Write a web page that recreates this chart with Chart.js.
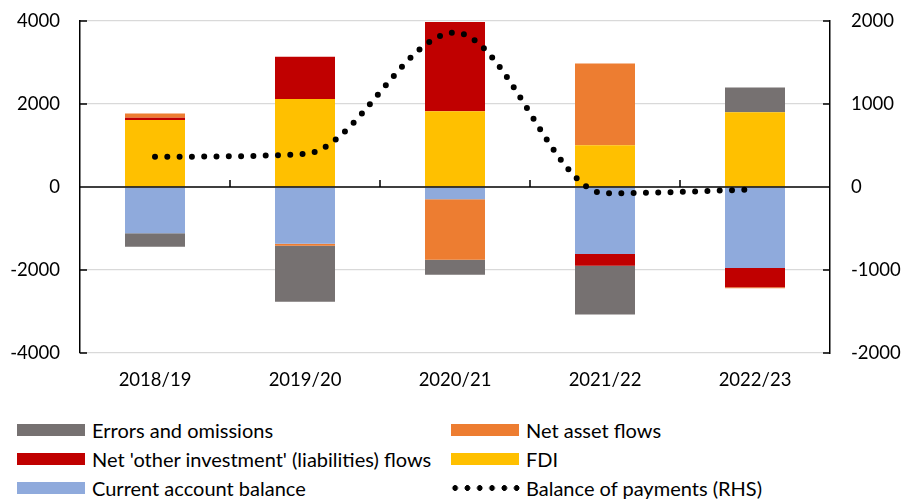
<!DOCTYPE html>
<html>
<head>
<meta charset="utf-8">
<script src="https://cdn.jsdelivr.net/npm/chart.js@4"></script>
<style>
  body { margin: 0; background: #fff; font-family: Lato, sans-serif; overflow: hidden; }
  #wrap { position: relative; width: 901px; height: 499px; overflow: hidden; }
  #chartBox { position: absolute; left: 0; top: -11px; width: 901px; height: 416px; }
  .item { position: absolute; height: 24px; line-height: 24px; font-size: 20px; color: #000; white-space: nowrap; }
  .swatch { position: absolute; left: 0; top: 6px; width: 68px; height: 12px; }
  .dots { position: absolute; left: 0; top: 0; width: 74px; height: 24px;
    background: radial-gradient(circle, #000 2.6px, transparent 3.1px) 0 0 / 12.3px 24px repeat-x; }
  .item span.label { position: absolute; left: 75px; top: 0; }
</style>
</head>
<body>
<div id="wrap">
  <div id="chartBox"><canvas id="bopChart"></canvas></div>
  <div id="legend"></div>
</div>
<script>
// Financial years on the x axis
const years = ["2018/19", "2019/20", "2020/21", "2021/22", "2022/23"];

// Components, stacked in this order (left axis)
const currentAccount = [-1115, -1365, -295, -1615, -1950];
const fdi = [1615, 2120, 1830, 1005, 1800];
const otherInvestment = [55, 1020, 2150, -280, -465];
const netAssetFlows = [105, -50, -1460, 1970, -25];
const errorsOmissions = [-325, -1350, -360, -1180, 600];

// Overall balance (right axis)
const balanceOfPayments = [365, 400, 1860, -75, -30];

const leftTicks = [-4000, -2000, 0, 2000, 4000];
const rightTicks = [-2000, -1000, 0, 1000, 2000];

const colours = {
  errors: "#767171",
  assets: "#ED7D31",
  other: "#C00000",
  fdi: "#FFC000",
  current: "#8FAADC",
};

const tickFont = { family: "Lato", size: 18.5 };

// zero line and the little inside tick marks, drawn over the bars but under the dotted line
const axisMarks = {
  id: "axisMarks",
  beforeDatasetDraw(chart, args) {
    if (args.meta.type !== "line") return;
    const ctx = chart.ctx;
    const area = chart.chartArea;
    const y = chart.scales.y;
    const y2 = chart.scales.y2;
    const x = chart.scales.x;
    const zero = y.getPixelForValue(0);
    ctx.save();
    ctx.strokeStyle = "#000";
    ctx.lineWidth = 1.5;
    ctx.beginPath();
    ctx.moveTo(area.left, zero);
    ctx.lineTo(area.right, zero);
    // category boundaries
    for (let i = 0; i < years.length - 1; i++) {
      const bx = (x.getPixelForValue(i) + x.getPixelForValue(i + 1)) / 2;
      ctx.moveTo(bx, zero);
      ctx.lineTo(bx, zero - 7);
    }
    leftTicks.forEach((v) => {
      const py = y.getPixelForValue(v);
      ctx.moveTo(area.left, py);
      ctx.lineTo(area.left + 7, py);
    });
    rightTicks.forEach((v) => {
      const py = y2.getPixelForValue(v);
      ctx.moveTo(area.right, py);
      ctx.lineTo(area.right - 7, py);
    });
    ctx.stroke();
    ctx.restore();
  },
};

function barSet(label, data, colour) {
  return {
    type: "bar",
    label: label,
    data: data,
    backgroundColor: colour,
    borderWidth: 0,
    yAxisID: "y",
    stack: "bop",
    order: 1,
    barPercentage: 0.4,
    categoryPercentage: 1,
  };
}

const plainNumber = (v) => String(v);

const ctx = document.getElementById("bopChart").getContext("2d");
const bopChart = new Chart(ctx, {
  data: {
    labels: years,
    datasets: [
      barSet("Current account balance", currentAccount, colours.current),
      barSet("FDI", fdi, colours.fdi),
      barSet("Net 'other investment' (liabilities) flows", otherInvestment, colours.other),
      barSet("Net asset flows", netAssetFlows, colours.assets),
      barSet("Errors and omissions", errorsOmissions, colours.errors),
      {
        type: "line",
        label: "Balance of payments (RHS)",
        data: balanceOfPayments,
        yAxisID: "y2",
        borderColor: "#000",
        borderWidth: 6,
        borderDash: [0, 12.3],
        borderCapStyle: "round",
        cubicInterpolationMode: "monotone",
        pointRadius: 0,
        fill: false,
        order: 0,
      },
    ],
  },
  options: {
    responsive: true,
    maintainAspectRatio: false,
    animation: false,
    layout: { padding: { top: 10, left: 0, right: 0, bottom: 0 } },
    plugins: {
      legend: { display: false },
      tooltip: { enabled: false },
    },
    scales: {
      x: {
        stacked: true,
        grid: { display: false, drawTicks: false },
        border: { display: false },
        ticks: { font: tickFont, color: "#000", padding: 16 },
        afterFit(scale) { scale.height = 52; },
      },
      y: {
        position: "left",
        stacked: true,
        min: -4000,
        max: 4000,
        afterBuildTicks(scale) { scale.ticks = leftTicks.map((v) => ({ value: v })); },
        grid: {
          color: (c) => (c.tick && c.tick.value === 0 ? "rgba(0,0,0,0)" : "#D9D9D9"),
          lineWidth: 1.3,
          drawTicks: false,
        },
        border: { display: true, color: "#000", width: 1.5 },
        ticks: { font: tickFont, color: "#000", padding: 20, callback: plainNumber },
        afterFit(scale) { scale.width = 80; },
      },
      y2: {
        position: "right",
        min: -2000,
        max: 2000,
        afterBuildTicks(scale) { scale.ticks = rightTicks.map((v) => ({ value: v })); },
        grid: { drawOnChartArea: false, drawTicks: false },
        border: { display: true, color: "#000", width: 1.5 },
        ticks: { font: tickFont, color: "#000", padding: 21, callback: plainNumber },
        afterFit(scale) { scale.width = 71; },
      },
    },
  },
  plugins: [axisMarks],
});

// Legend in two columns below the chart
const legendItems = [
  { text: "Errors and omissions", colour: colours.errors, x: 17, y: 431 },
  { text: "Net asset flows", colour: colours.assets, x: 451, y: 431 },
  { text: "Net 'other investment' (liabilities) flows", colour: colours.other, x: 17, y: 460 },
  { text: "FDI", colour: colours.fdi, x: 451, y: 460 },
  { text: "Current account balance", colour: colours.current, x: 17, y: 489 },
  { text: "Balance of payments (RHS)", dots: true, x: 451, y: 489 },
];
const legend = document.getElementById("legend");
legendItems.forEach((item) => {
  const el = document.createElement("div");
  el.className = "item";
  el.style.left = item.x + "px";
  el.style.top = item.y - 13 + "px";
  const mark = document.createElement("span");
  if (item.dots) {
    mark.className = "dots";
    mark.style.left = "-2px";
  } else {
    mark.className = "swatch";
    mark.style.background = item.colour;
  }
  const label = document.createElement("span");
  label.className = "label";
  label.textContent = item.text;
  el.appendChild(mark);
  el.appendChild(label);
  legend.appendChild(el);
});
</script>
</body>
</html>
